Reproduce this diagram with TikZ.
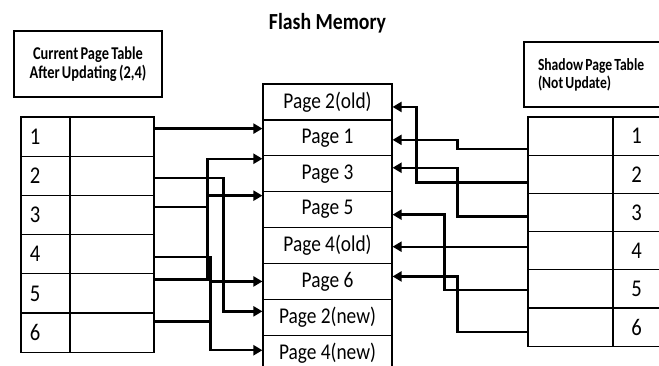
\documentclass[tikz,border=0pt]{standalone}
\usepackage{fontspec}
\setmainfont{Carlito}[FakeStretch=0.86]
\newfontfamily\headfont{Carlito}[FakeStretch=0.8, WordSpace=0.7]
\usepackage{tikz}
\usetikzlibrary{arrows.meta}

\begin{document}
\begin{tikzpicture}[x = 1pt, y = -1pt,
    box/.style = {draw, line width = 1.2pt, inner sep = 0pt},
    page/.style = {box, minimum width = 129pt, minimum height = 35.9pt, font = \fontsize{22.5}{24}\selectfont},
    lcell/.style = {box, minimum height = 39.2pt},
    rcell/.style = {box, minimum height = 38.2pt},
    num/.style = {font = \fontsize{24}{26}\selectfont},
    link/.style = {line width = 2.4pt, -{Triangle[length = 9pt, width = 10pt]}}]
    \useasboundingbox (0,0) rectangle (659,365);

    \node[anchor = base, font = \bfseries\fontsize{23}{25}\selectfont] (title) at (327.5,29) {Flash Memory};

    % flash memory
    \foreach \name/\txt [count = \k] in {Pold2/Page 2(old), P1/Page 1, P3/Page 3, P5/Page 5, Pold4/Page 4(old), P6/Page 6, Pnew2/Page 2(new), Pnew4/Page 4(new)}
        \node[page] (\name) at (327.5, {84+35.9*(\k-0.5)}) {\txt};

    % current page table
    \node[box, minimum width = 148pt, minimum height = 66pt, align = center, font = \headfont\bfseries\fontsize{18}{19}\selectfont] (curhead) at (88,64) {Current Page Table\\After Updating (2,4)};
    \foreach \i in {1,...,6} {
        \node[lcell, num, minimum width = 49pt, text width = 31pt, inner xsep = 9pt, align = flush left] (Ln\i) at (45.5, {117+39.2*(\i-0.5)}) {\i};
        \node[lcell, minimum width = 84pt] (Lv\i) at (112, {117+39.2*(\i-0.5)}) {};
    }

    % shadow page table
    \node[box, minimum width = 141pt, minimum height = 65pt, text width = 113pt, inner xsep = 14pt, align = flush left, font = \headfont\bfseries\fontsize{17}{18}\selectfont] (shdhead) at (594.5,74.5) {Shadow Page Table\\(Not Update)};
    \foreach \i in {1,...,6} {
        \node[rcell, minimum width = 85pt] (Rv\i) at (570.5, {117+38.2*(\i-0.5)}) {};
        \node[rcell, num, minimum width = 47pt] (Rn\i) at (636.5, {117+38.2*(\i-0.5)}) {\i};
    }

    % current table to flash
    \draw[link] ([yshift = 8pt]Lv1.east) coordinate (s1) -- (s1 -| P1.west);
    \draw[link] ([yshift = -2pt]Lv2.east) -- ++(69,0) |- ([yshift = 6pt]Pnew2.west);
    \draw[link] ([yshift = 8pt]Lv3.east) -- ++(53,0) |- ([yshift = 15pt]P3.west);
    \draw[link] ([yshift = -3pt]Lv4.east) -- ++(56,0) |- ([yshift = 3pt]Pnew4.west);
    \draw[link] ([yshift = 14pt]Lv5.east) -- ++(53,0) |- ([yshift = 14pt]P5.west);
    \draw[link] ([yshift = 11pt]Lv6.east) -- ++(56,0) |- (P6.west);

    % shadow table to flash
    \draw[link] ([yshift = -13pt]Rv1.west) -- ++(-70,0) |- ([yshift = -2pt]P1.east);
    \draw[link] ([yshift = -8pt]Rv2.west) -- ++(-111,0) |- ([yshift = -5pt]Pold2.east);
    \draw[link] ([yshift = -4pt]Rv3.west) -- ++(-70,0) |- ([yshift = 6pt]P3.east);
    \draw[link] ([yshift = 4pt]Rv4.west) coordinate (t4) -- (t4 -| Pold4.east);
    \draw[link] ([yshift = -1pt]Rv5.west) -- ++(-83,0) |- ([yshift = -5pt]P5.east);
    \draw[link] ([yshift = -5pt]Rv6.west) -- ++(-70,0) |- ([yshift = 5pt]P6.east);

\end{tikzpicture}
\end{document}
